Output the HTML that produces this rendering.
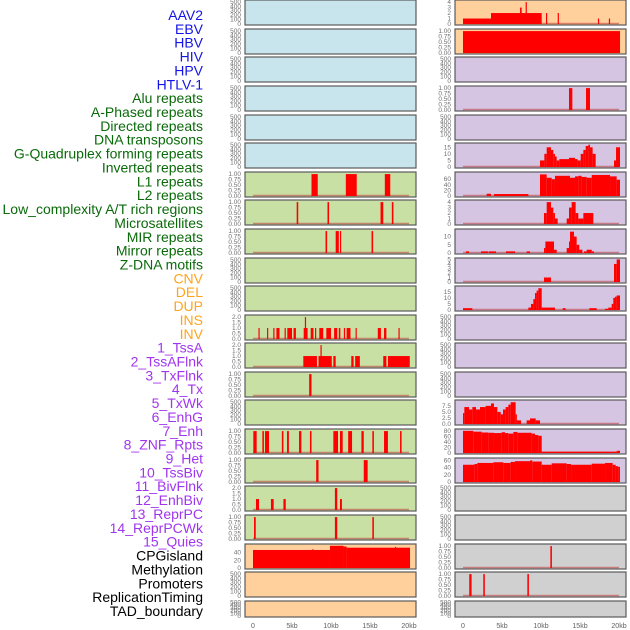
<!DOCTYPE html>
<html><head><meta charset="utf-8"><style>
html,body{margin:0;padding:0;background:#fff;}
svg{display:block;font-family:"Liberation Sans",sans-serif;}
</style></head><body>
<svg id="chart" width="630" height="630" viewBox="0 0 630 630" xmlns="http://www.w3.org/2000/svg"></svg>
<script>
// ---- data ----
const labelsBlue = ["AAV2","EBV","HBV","HIV","HPV","HTLV-1"];
const labelsGreen = ["Alu repeats","A-Phased repeats","Directed repeats","DNA transposons","G-Quadruplex forming repeats","Inverted repeats","L1 repeats","L2 repeats","Low_complexity A/T rich regions","Microsatellites","MIR repeats","Mirror repeats","Z-DNA motifs"];
const labelsOrange = ["CNV","DEL","DUP","INS","INV"];
const labelsPurple = ["1_TssA","2_TssAFlnk","3_TxFlnk","4_Tx","5_TxWk","6_EnhG","7_Enh","8_ZNF_Rpts","9_Het","10_TssBiv","11_BivFlnk","12_EnhBiv","13_ReprPC","14_ReprPCWk","15_Quies"];
const labelsBlack = ["CPGisland","Methylation","Promoters","ReplicationTiming","TAD_boundary"];
const xTicks = [0,5,10,15,20];
const xTickLabels = ["0","5kb","10kb","15kb","20kb"];

// segments: [start_kb, end_kb, value]
const L6 = [[7.5,8.3,1],[11.9,13.3,1],[16.9,17.6,1]];
const L7 = [[5.6,5.8,1],[9.55,9.75,1],[16.35,16.7,1],[17.8,18.0,1]];
const L8 = [[9.3,9.5,1],[10.6,11.0,1],[11.15,11.3,1],[15.2,15.4,1]];
const L11 = [[0.7,0.85,1],[1.8,1.95,1],[2.6,2.75,1],[3.0,3.4,1],[4.05,4.2,1],[4.4,5.0,1],[5.2,5.5,1],[6.5,7.0,1],[6.65,6.8,2],[7.4,7.75,1],[7.95,8.1,1],[8.5,9.0,1],[9.4,10.0,1],[10.4,10.8,1],[11.0,11.2,1],[11.65,11.8,1],[12.0,12.5,1],[13.15,13.3,1],[16.0,16.4,1],[16.8,17.1,1],[18.65,18.8,1]];
const L12 = [[6.45,8.2,1],[8.4,10.1,1],[8.65,8.8,2],[10.3,10.6,1],[12.6,12.9,1],[13.1,13.7,1],[16.7,17.1,1],[17.3,20.1,1]];
const L13 = [[7.2,7.5,1]];
const L15 = [[0.04,0.47,1],[1.2,1.4,1],[1.54,2.05,1],[3.7,3.9,1],[4.36,4.6,1],[5.9,6.2,1],[7.3,7.5,1],[10.3,10.9,1],[11.15,11.5,1],[12.2,12.7,1],[13.9,14.2,1],[15.3,15.5,1],[16.8,17.3,1],[18.85,19.05,1]];
const L16 = [[8.1,8.4,1],[14.2,14.7,1]];
const L17 = [[0.38,0.77,1],[2.3,2.65,1],[3.9,4.2,1],[10.5,10.8,2],[11.15,11.4,1]];
const L18 = [[0.13,0.35,1],[10.5,10.8,1],[15.3,15.5,1]];
const L19 = [[0,9.87,47],[7.6,7.7,49],[9.87,11.6,58],[11.6,12.0,56],[12.0,20.13,53],[18.2,18.3,55]];
const R0 = [[0,3.59,1],[3.59,10.09,2],[7.31,7.52,3],[8.03,8.16,4],[10.64,10.76,2],[12.14,12.27,2],[17.3,17.4,1],[18.7,18.85,1]];
const R1 = [[0,20.13,1]];
const R3 = [[13.59,14.02,1],[15.77,16.28,1]];
const R5 = [[9.87,10.43,5],[10.43,10.73,10],[10.73,11.28,15],[11.28,11.58,13],[11.58,11.79,10],[11.79,12.01,8],[12.01,12.35,5],[12.35,13.59,6],[13.59,14.36,7],[14.36,14.7,6],[14.7,15.09,5],[15.09,15.43,10],[15.43,15.73,13],[15.73,16.07,16],[16.07,16.28,17],[16.28,16.62,15],[16.62,17.01,10],[19.36,19.62,5],[19.62,20.13,15]];
const R6 = [[3.03,3.59,8],[3.97,8.38,7],[9.87,10.73,77],[10.73,11.37,65],[11.37,11.79,60],[11.79,13.72,72],[13.72,14.36,65],[14.36,14.79,70],[14.79,15.21,72],[15.21,15.86,68],[15.86,16.5,65],[16.5,18.85,75],[18.85,19.7,70],[19.7,20.13,58]];
const R7 = [[10.38,10.73,2],[10.73,11.28,4],[11.28,11.58,3],[11.58,11.79,2],[11.79,12.14,1],[13.29,13.59,1],[13.59,13.93,3],[13.93,14.44,4],[14.44,14.79,2],[14.79,15.43,1],[15.43,16.71,2]];
const R8 = [[0.38,0.77,1],[2.31,3.25,1],[3.33,4.23,1],[5.51,6.67,1],[8.16,8.59,1],[10.38,10.56,3],[10.56,11.67,7],[11.67,12.01,2],[13.29,13.59,3],[13.59,13.72,7],[13.72,14.23,13],[14.23,14.57,10],[14.57,14.91,5],[14.91,15.3,2],[15.51,15.86,1],[15.86,16.5,2],[16.5,16.79,1]];
const R9 = [[10.38,11.28,1],[19.36,19.7,4],[19.7,20.13,5]];
const R10 = [[0,1.2,1.5],[8.38,8.72,2],[8.72,9.02,5],[9.02,9.23,9],[9.23,9.44,14],[9.44,9.66,16],[9.66,10.09,18],[10.09,11.79,2],[12.78,13.16,1.5],[16.2,17.14,1.5],[18.21,18.63,1],[18.63,19.06,2],[19.06,19.27,5],[19.27,19.49,10],[19.49,19.7,11],[19.7,20.13,12]];
const R14 = [[0,0.17,4.5],[0.17,0.77,7],[0.77,1.2,6],[1.2,1.67,7],[1.67,2.18,6],[2.18,2.9,7],[2.9,3.59,7.5],[3.59,3.97,8.5],[3.97,4.4,7],[4.4,4.83,5],[4.83,5.13,4],[5.13,5.47,6],[5.47,5.81,7],[5.81,6.11,8],[6.11,6.75,9],[6.75,6.88,4],[6.88,7.44,1.5],[8.16,8.59,1.5],[8.59,9.32,2.3],[9.32,9.87,1.5]];
const R15 = [[0,1.32,80],[1.32,2.39,77],[2.39,3.25,74],[3.25,3.97,73],[3.97,4.96,72],[4.96,5.38,75],[5.38,5.81,72],[5.81,6.45,70],[6.45,6.97,76],[6.97,8.8,73],[8.8,9.23,70],[9.23,9.66,65],[9.66,10.09,62],[10.09,19.7,5],[19.7,20.13,8]];
const R16 = [[0,1.45,48],[1.45,1.84,50],[1.84,3.89,53],[3.89,5.17,55],[5.17,6.11,53],[6.11,6.67,56],[6.67,8.59,58],[8.59,8.89,60],[8.89,10.09,57],[10.09,11.37,48],[11.37,13.29,52],[13.29,13.85,50],[13.85,16.5,48],[16.5,18.21,51],[18.21,19.19,53],[19.19,19.57,48],[19.57,19.91,44],[19.91,20.13,42]];
const R19 = [[11.2,11.4,1]];
const R20 = [[0.8,1.1,1],[2.6,2.8,1],[8.25,8.45,1]];

const ticksEmpty = [0,100,200,300,400,500];
const ticksUnit = [0,0.25,0.5,0.75,1];
const ticksTwo = [0,0.5,1,1.5,2];
const ticksFour = [0,1,2,3,4];
const ticksFive = [0,1,2,3,4,5];
const ticks15 = [0,5,10,15];
const ticks10 = [0,5,10];
const ticks60 = [0,20,40,60];
const ticks80 = [0,20,40,60,80];
const ticks40 = [0,20,40];
const ticks75 = [0,2.5,5,7.5];

// ---- layout ----
const svg = document.getElementById('chart');
const NS = "http://www.w3.org/2000/svg";
function mk(tag, attrs){ const e=document.createElementNS(NS,tag); for(const k in attrs) e.setAttribute(k,attrs[k]); return e; }

const rowTops = [0,29,57,86,115,143,172,200,229,258,286,315,343,372,400,429,458,486,515,544,572,601];
const colX = [245,455];
const zeroX = [253,463];
const pxPerKb = 7.8;
const panelW = 171;

function xScale(col, kb){ return zeroX[col] + kb*pxPerKb; }

// labels
const groups = [[labelsBlue,"#1414e6"],[labelsGreen,"#0a6a0a"],[labelsOrange,"#ffa41c"],[labelsPurple,"#a035ee"],[labelsBlack,"#000"]];
let li = 0;
groups.forEach(([arr,color])=>{
  arr.forEach(t=>{
    const y = 15 + li*13.86 + 5;
    const tx = mk('text',{x:203,y:y,'text-anchor':'end','font-size':'14',fill:color});
    tx.textContent = t;
    
    
    svg.appendChild(tx);
    li++;
  });
});

function bgFor(col,row){
  if(col===0){ if(row<=5) return "#c8e4ec"; if(row<=18) return "#c8e0a4"; return "#ffd09c"; }
  if(row<=1) return "#ffd09c"; if(row<=16) return "#d5c5e2"; return "#d0d0d0";
}
function fmt(v, ticks){
  const max = ticks[ticks.length-1];
  if(max===1) return v.toFixed(2);
  if(max===2 || max===7.5) return v.toFixed(1);
  return String(v);
}

const leftData = {6:[L6,ticksUnit,1.05],7:[L7,ticksUnit,1.05],8:[L8,ticksUnit,1.05],11:[L11,ticksTwo,2.1],12:[L12,ticksTwo,2.1],13:[L13,ticksUnit,1.05],15:[L15,ticksUnit,1.05],16:[L16,ticksUnit,1.05],17:[L17,ticksTwo,2.1],18:[L18,ticksUnit,1.05],19:[L19,ticks40,60]};
const rightData = {0:[R0,ticksFour,4.2],1:[R1,ticksUnit,1.05],3:[R3,ticksUnit,1.05],5:[R5,ticks15,17.5],6:[R6,ticks60,82],7:[R7,ticksFour,4.2],8:[R8,ticks10,14],9:[R9,ticksFive,5.1],10:[R10,ticks15,19],14:[R14,ticks75,9.5],15:[R15,ticks80,83],16:[R16,ticks60,64],19:[R19,ticksUnit,1.05],20:[R20,ticksUnit,1.05]};

[leftData,rightData].forEach((dataMap,col)=>{
  rowTops.forEach((top,row)=>{
    const h = row===21 ? 16 : 25;
    const g = mk('g',{});
    
    
    svg.appendChild(g);
    const px = colX[col];
    const bg = mk('rect',{x:px,y:top,width:panelW,height:h,fill:bgFor(col,row),stroke:"#5a5a5a",'stroke-width':1.2});
    
    
    g.appendChild(bg);
    const entry = dataMap[row];
    const segs = entry ? entry[0] : null;
    const ticks = entry ? entry[1] : ticksEmpty;
    const ymax = entry ? entry[2] : 520;
    const yScale = v => top + h - 1 - v/ymax*(h-2);
    ticks.forEach(v=>{
      const t = mk('text',{x:px-4,y:yScale(v)+2,'text-anchor':'end','font-size':'6.5',fill:"#707070"});
      t.textContent = fmt(v,ticks);
      
      
      g.appendChild(t);
    });
    if(segs){
      const base = mk('line',{x1:xScale(col,0),x2:xScale(col,20),y1:yScale(0)-0.5,y2:yScale(0)-0.5,stroke:"rgba(190,60,60,0.55)",'stroke-width':1.5});
      
      
      g.appendChild(base);
      segs.forEach(s=>{
        const x1 = xScale(col,s[0]), x2 = xScale(col,s[1]);
        const y = yScale(s[2]);
        const r = mk('rect',{x:x1,y:y,width:Math.max(1.2,x2-x1),height:yScale(0)-y,fill:"#ff0000"});
        
        
        g.appendChild(r);
      });
    }
  });
  xTicks.forEach((v,i)=>{
    const t = mk('text',{x:xScale(col,v),y:628,'text-anchor':'middle','font-size':'7',fill:"#606060"});
    t.textContent = xTickLabels[i];
    
    
    svg.appendChild(t);
  });
});
</script>
</body></html>
